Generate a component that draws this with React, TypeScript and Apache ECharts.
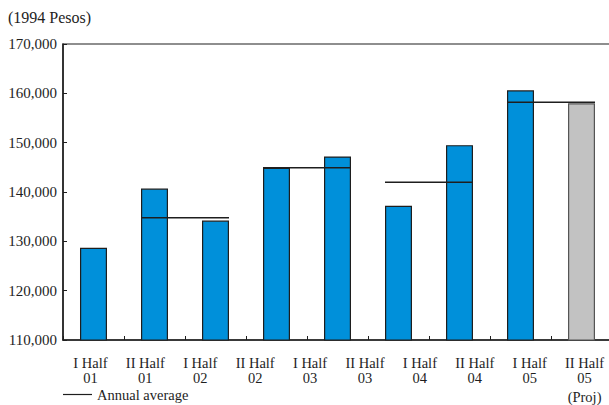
import { useEffect, useRef } from "react";
import * as echarts from "echarts";

// Tick labels along the bottom (ten half-year periods)
const periodLabels = [
  "I Half\n01",
  "II Half\n01",
  "I Half\n02",
  "II Half\n02",
  "I Half\n03",
  "II Half\n03",
  "I Half\n04",
  "II Half\n04",
  "I Half\n05",
  "II Half\n05\n(Proj)",
];

// Half-year values in 1994 pesos; the last one is the projection
const halfYearValues = [128700, 140700, 134200, 144900, 147200, 137200, 149500, 160600, 158000];
const projectedIndex = 8;

// Annual averages and the pair of bars each one spans
const annualAverages = [134800, 144900, 142000, 158200];
const averageSpans = [
  [1, 2],
  [3, 4],
  [5, 6],
  [7, 8],
];

const yTicks = { min: 110000, max: 170000, interval: 10000 };

const FONT = "'Liberation Serif', 'Times New Roman', serif";
const INK = "#1e1e1e";
const BAR_WIDTH = 27;

export default function App() {
  const ref = useRef<HTMLDivElement>(null);

  useEffect(() => {
    if (!ref.current) return;
    const chart = echarts.init(ref.current, null, { renderer: "svg" });

    const barData = halfYearValues.map((v, i) =>
      i === projectedIndex
        ? { value: v, itemStyle: { color: "#c2c2c2", borderColor: "#555", borderWidth: 1.2 } }
        : { value: v }
    );

    const averageData = annualAverages.map((v, i) => [averageSpans[i][0], averageSpans[i][1], v]);

    chart.setOption({
      animation: false,
      grid: {
        left: 63,
        right: -3,
        top: 44,
        bottom: 65,
        outerBoundsMode: "none",
        containLabel: false,
        show: true,
        borderColor: INK,
        borderWidth: 1.2,
        backgroundColor: "transparent",
      },
      xAxis: [
        {
          type: "category",
          data: halfYearValues.map((_, i) => String(i)),
          position: "bottom",
          axisLine: { show: true, lineStyle: { color: INK, width: 1.5 } },
          axisTick: { show: true, inside: true, length: 4, lineStyle: { color: INK, width: 1 } },
          axisLabel: { show: false },
          splitLine: { show: false },
        },
        {
          type: "category",
          data: periodLabels,
          position: "bottom",
          offset: 0,
          axisLine: { show: false },
          axisTick: { show: false },
          splitLine: { show: false },
          axisLabel: {
            show: true,
            interval: 0,
            margin: 16,
            color: INK,
            fontFamily: FONT,
            fontSize: 14.5,
            lineHeight: 14.5,
            formatter: (s: string) => s.replace("(Proj)", "{p|(Proj)}"),
            rich: {
              p: { fontFamily: FONT, fontSize: 14.5, color: INK, lineHeight: 24 },
            },
          },
        },
      ],
      yAxis: {
        type: "value",
        min: yTicks.min,
        max: yTicks.max,
        interval: yTicks.interval,
        axisLine: { show: true, lineStyle: { color: INK, width: 1.5 } },
        axisTick: { show: true, inside: true, length: 4, lineStyle: { color: INK, width: 1 } },
        splitLine: { show: false },
        axisLabel: {
          margin: 6,
          color: INK,
          fontFamily: FONT,
          fontSize: 15,
          formatter: (v: number) => v.toLocaleString("en-US"),
        },
      },
      series: [
        {
          type: "bar",
          xAxisIndex: 0,
          data: barData,
          barWidth: BAR_WIDTH,
          itemStyle: { color: "#0090da", borderColor: INK, borderWidth: 1.2 },
        },
        {
          type: "custom",
          xAxisIndex: 0,
          data: averageData,
          encode: { x: [0, 1], y: 2 },
          renderItem: (_params: any, api: any) => {
            const v = api.value(2);
            const p1 = api.coord([api.value(0), v]);
            const p2 = api.coord([api.value(1), v]);
            const half = BAR_WIDTH / 2;
            return {
              type: "line",
              shape: { x1: p1[0] - half, y1: p1[1], x2: p2[0] + half, y2: p2[1] },
              style: { stroke: INK, lineWidth: 1.5 },
            };
          },
          z: 5,
        },
      ],
      graphic: [
        {
          type: "text",
          left: 8,
          top: 9,
          style: { text: "(1994 Pesos)", fontFamily: FONT, fontSize: 16, fill: INK },
        },
        {
          type: "line",
          shape: { x1: 63, y1: 394.5, x2: 92, y2: 394.5 },
          style: { stroke: INK, lineWidth: 1.2 },
        },
        {
          type: "text",
          x: 97,
          y: 395,
          style: {
            text: "Annual average",
            fontFamily: FONT,
            fontSize: 14.5,
            fill: INK,
            verticalAlign: "middle",
          },
        },
      ],
    });

    return () => chart.dispose();
  }, []);

  return (
    <div
      ref={ref}
      style={{ position: "fixed", left: 0, top: 0, width: 609, height: 405, background: "#fff" }}
    />
  );
}
